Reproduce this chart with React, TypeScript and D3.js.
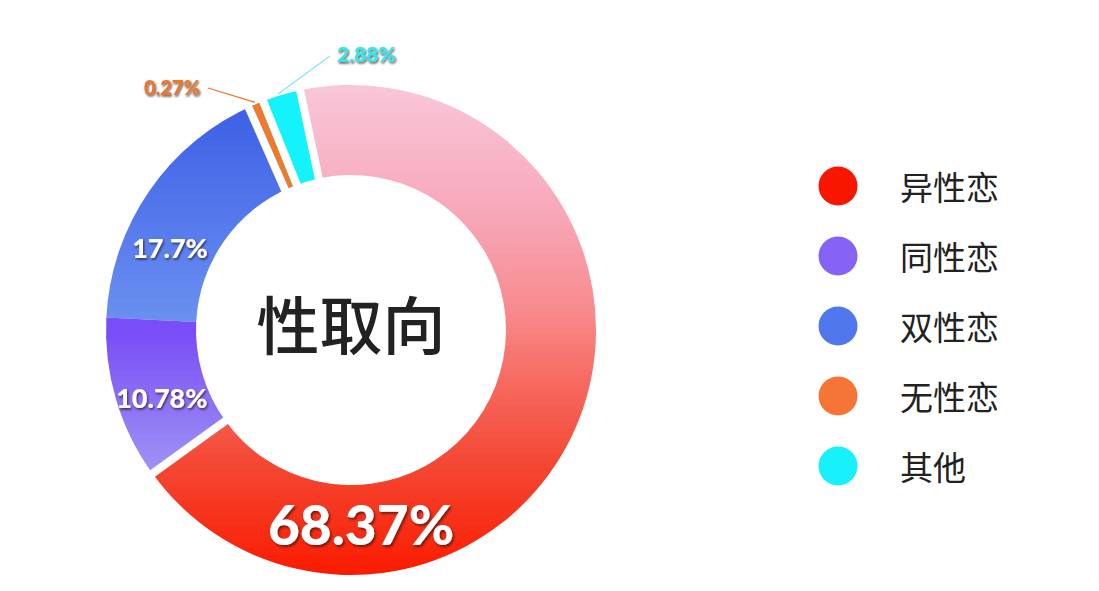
import React from 'react';
import * as d3 from 'd3';

const categories = ['异性恋', '同性恋', '双性恋', '无性恋', '其他'];
const values = [68.37, 10.78, 17.7, 0.27, 2.88];
const valueLabels = ['68.37%', '10.78%', '17.7%', '0.27%', '2.88%'];
const legendColors = ['#f81600', '#8662f5', '#5078ec', '#f47536', '#18f1fb'];
const centerTitle = '性取向';

const W = 1099;
const H = 591;
const CX = 351;
const CY = 330;
const R_OUT = 245;
const R_IN = 155;
const START = (-12 * Math.PI) / 180;
const MIN_ANGLE = (1.8 * Math.PI) / 180;
const GAP = 8;

// gradient stops per slice [offset, color]
const sliceGradients: { y1: number; y2: number; stops: [number, string][] }[] = [
  {
    y1: -R_OUT,
    y2: R_OUT,
    stops: [
      [0, '#f9c7d8'],
      [0.25, '#f7a9bb'],
      [0.45, '#f88c90'],
      [0.6, '#f76b62'],
      [0.78, '#f44632'],
      [1, '#fa1b00'],
    ],
  },
  { y1: 5, y2: 165, stops: [[0, '#7a4ef6'], [1, '#a69ff4']] },
  { y1: -230, y2: 5, stops: [[0, '#3c5ee6'], [1, '#6d93f1']] },
  { y1: -250, y2: -150, stops: [[0, '#ee7a2a'], [1, '#ee7a2a']] },
  { y1: -250, y2: -150, stops: [[0, '#14f3fb'], [1, '#14f3fb']] },
];

// inside-label placement: fraction along slice, radius, font size
const insideLabels = [
  { i: 0, t: 0.768, r: 194, size: 55 },
  { i: 1, t: 0.415, r: 201, size: 27 },
  { i: 2, t: 0.34, r: 199, size: 27 },
];

// outside labels (absolute anchor positions)
const outsideLabels = [
  { i: 3, x: 200, y: 87, anchor: 'end', lx: 208, ly: 88, fill: '#e9782f', stroke: '#e9782f', size: 20 },
  { i: 4, x: 337, y: 53, anchor: 'start', lx: 330, ly: 56, fill: '#34e6e8', stroke: '#86e6f2', size: 21 },
];

// gaps: after slice index
const gapAfter = [0, 2, 3, 4];

const legendX = 838;
const legendY0 = 186;
const legendStep = 70;

export default function App() {
  const pie = d3
    .pie<number>()
    .sort(null)
    .value((d) => d)
    .startAngle(START)
    .endAngle(START + 2 * Math.PI);
  const arcs = pie(values);
  // visual angles: tiny slices widened to a minimum angle (drawn on top)
  const vis = arcs.map((a) => {
    const span = a.endAngle - a.startAngle;
    if (span >= MIN_ANGLE) return { ...a };
    const mid = (a.startAngle + a.endAngle) / 2;
    return { ...a, startAngle: mid - MIN_ANGLE / 2, endAngle: mid + MIN_ANGLE / 2 };
  });
  const arcGen = d3.arc<any>().innerRadius(R_IN).outerRadius(R_OUT);

  const polar = (a: number, r: number): [number, number] => [r * Math.sin(a), -r * Math.cos(a)];

  const order = vis.map((_, i) => i).sort((a, b) => (arcs[b].endAngle - arcs[b].startAngle) - (arcs[a].endAngle - arcs[a].startAngle));

  const gapLines = gapAfter.map((i) => {
    const next = (i + 1) % vis.length;
    const smallPrev = arcs[i].endAngle - arcs[i].startAngle < MIN_ANGLE;
    const smallNext = arcs[next].endAngle - arcs[next].startAngle < MIN_ANGLE;
    let a = arcs[i].endAngle;
    let off = 0;
    if (smallNext) {
      a = vis[next].startAngle;
      off = -GAP / 2;
    } else if (smallPrev) {
      a = vis[i].endAngle;
      off = GAP / 2;
    }
    return { a, off };
  });

  return (
    <svg
      width={W}
      height={H}
      style={{ position: 'absolute', left: 0, top: 0, background: '#fff' }}
      xmlns="http://www.w3.org/2000/svg"
    >
      <defs>
        {sliceGradients.map((g, i) => (
          <linearGradient key={i} id={`g${i}`} gradientUnits="userSpaceOnUse" x1={0} x2={0} y1={g.y1} y2={g.y2}>
            {g.stops.map(([o, c], j) => (
              <stop key={j} offset={o} stopColor={c} />
            ))}
          </linearGradient>
        ))}
        <filter id="sh" x="-20%" y="-30%" width="140%" height="160%">
          <feDropShadow dx={1} dy={1.5} stdDeviation={0.8} floodColor="#2a1010" floodOpacity={0.75} />
        </filter>
        <filter id="shBig" x="-20%" y="-30%" width="140%" height="160%">
          <feDropShadow dx={1.5} dy={2} stdDeviation={1} floodColor="#3a0a00" floodOpacity={0.7} />
        </filter>
      </defs>
      <rect width={W} height={H} fill="#fff" />
      <g transform={`translate(${CX},${CY})`}>
        {order.map((i) => (
          <path key={i} d={arcGen(vis[i]) || ''} fill={`url(#g${i})`} />
        ))}
        {gapLines.map((g, k) => {
          const tx = Math.cos(g.a);
          const ty = Math.sin(g.a);
          const [x1, y1] = polar(g.a, R_IN - 10);
          const [x2, y2] = polar(g.a, R_OUT + 8);
          return (
            <line
              key={k}
              x1={x1 + tx * g.off}
              y1={y1 + ty * g.off}
              x2={x2 + tx * g.off}
              y2={y2 + ty * g.off}
              stroke="#fff"
              strokeWidth={GAP}
            />
          );
        })}
        {insideLabels.map((l) => {
          const a = arcs[l.i];
          const ang = a.startAngle + (a.endAngle - a.startAngle) * l.t;
          const [x, y] = polar(ang, l.r);
          return (
            <text
              key={l.i}
              x={x}
              y={y}
              textAnchor="middle"
              dominantBaseline="central"
              fontFamily="Lato, 'Open Sans', sans-serif"
              fontWeight={900}
              fontSize={l.size}
              fill="#ffffff"
              filter={l.size > 30 ? 'url(#shBig)' : 'url(#sh)'}
            >
              {valueLabels[l.i]}
            </text>
          );
        })}
        <text
          x={0}
          y={-9}
          textAnchor="middle"
          dominantBaseline="central"
          fontFamily="'Noto Sans CJK SC', sans-serif"
          fontWeight={500}
          fontSize={63}
          fill="#222"
        >
          {centerTitle}
        </text>
      </g>
      {outsideLabels.map((l) => {
        const a = arcs[l.i];
        const mid = (a.startAngle + a.endAngle) / 2;
        const [sx, sy] = polar(mid, R_OUT + 2);
        return (
          <g key={l.i}>
            <line x1={CX + sx} y1={CY + sy} x2={l.lx} y2={l.ly} stroke={l.stroke} strokeWidth={1.3} />
            <text
              x={l.x}
              y={l.y}
              textAnchor={l.anchor as any}
              dominantBaseline="central"
              fontFamily="Lato, 'Open Sans', sans-serif"
              fontWeight={900}
              fontSize={l.size}
              fill={l.fill}
              filter="url(#sh)"
            >
              {valueLabels[l.i]}
            </text>
          </g>
        );
      })}
      {categories.map((c, i) => (
        <g key={c} transform={`translate(${legendX},${legendY0 + i * legendStep})`}>
          <circle r={19.5} fill={legendColors[i]} />
          <text
            x={62}
            y={0}
            dominantBaseline="central"
            fontFamily="'Noto Sans CJK SC', sans-serif"
            fontSize={33}
            fill="#222"
          >
            {c}
          </text>
        </g>
      ))}
    </svg>
  );
}
